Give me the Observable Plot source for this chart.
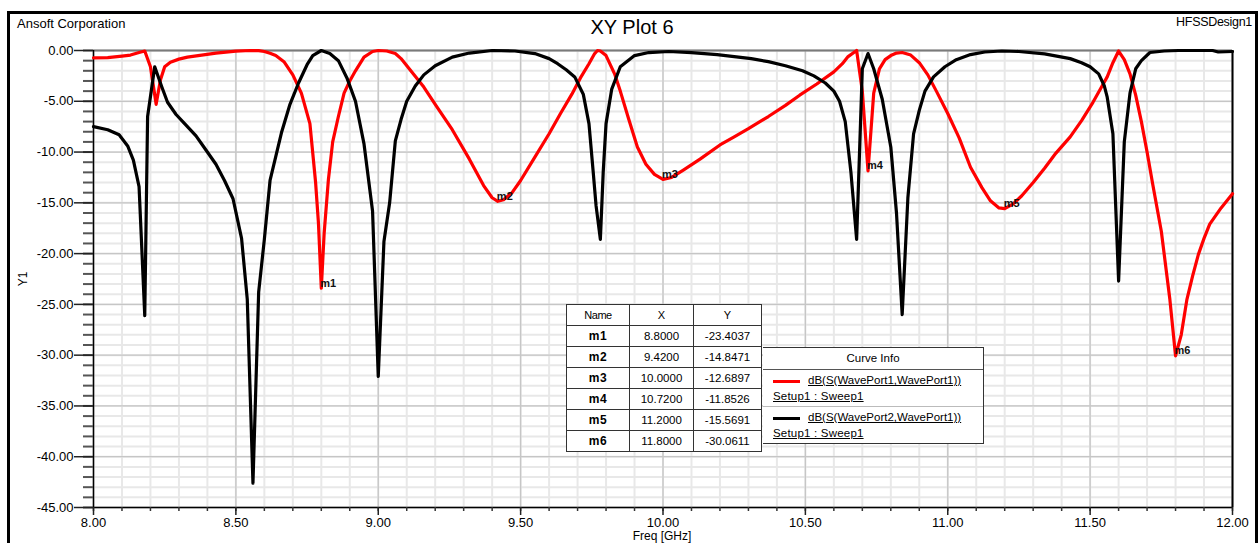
<!DOCTYPE html>
<html><head><meta charset="utf-8">
<script src="https://cdn.jsdelivr.net/npm/d3@7"></script>
<script src="https://cdn.jsdelivr.net/npm/@observablehq/plot@0.6"></script>
<style>
body{margin:0;background:#fff;font-family:"Liberation Sans",Arial,sans-serif;color:#000;}
#wrap{position:relative;width:1259px;height:543px;overflow:hidden;background:#fff;}
#frame{position:absolute;left:7px;top:11px;width:1251px;height:600px;border:3px solid #000;box-sizing:border-box;}
#chart{position:absolute;left:0;top:0;}
.lbl{position:absolute;white-space:nowrap;line-height:1;}
#mtable{position:absolute;left:566px;top:304px;border-collapse:collapse;background:#fff;font-size:11.5px;}
#mtable td{border:1.5px solid #333;height:20px;padding:0;text-align:center;vertical-align:middle;}
#info{position:absolute;left:763px;top:347px;width:221px;height:97px;border:1.5px solid #333;border-left:none;box-sizing:border-box;background:#fff;font-size:11.5px;}
#info .hd{position:absolute;left:0;top:0;width:100%;height:21px;border-bottom:1.5px solid #555;text-align:center;line-height:21px;}
#info .sep{position:absolute;left:0;top:58px;width:100%;height:0;border-top:1.5px solid #bbb;}
#info .sw{position:absolute;left:10px;width:27px;height:3px;}
#info .t{position:absolute;text-decoration:underline;white-space:nowrap;line-height:1;}
</style>
</head><body>
<div id="wrap">
  <div id="frame"></div>
  <div id="chart"></div>
</div>
<script>
// ---- data ----
const s11Freq = [8.00,8.05,8.10,8.13,8.16,8.18,8.20,8.22,8.235,8.25,8.27,8.30,8.33,8.38,8.43,8.50,8.55,8.58,8.60,8.62,8.64,8.67,8.70,8.73,8.76,8.78,8.79,8.80,8.81,8.825,8.84,8.86,8.88,8.90,8.92,8.95,8.98,9.00,9.03,9.06,9.08,9.12,9.16,9.20,9.26,9.32,9.37,9.40,9.42,9.44,9.47,9.50,9.55,9.60,9.64,9.68,9.71,9.74,9.76,9.77,9.78,9.80,9.83,9.85,9.88,9.91,9.94,9.97,10.00,10.03,10.07,10.13,10.20,10.25,10.30,10.37,10.43,10.48,10.54,10.60,10.63,10.65,10.68,10.70,10.72,10.74,10.76,10.78,10.80,10.82,10.84,10.87,10.90,10.93,10.96,11.00,11.04,11.08,11.12,11.15,11.18,11.20,11.23,11.26,11.30,11.34,11.38,11.43,11.47,11.51,11.54,11.56,11.58,11.60,11.62,11.64,11.66,11.68,11.70,11.72,11.75,11.78,11.80,11.82,11.84,11.86,11.88,11.90,11.92,11.96,12.00];
const s11dB = [-0.72,-0.70,-0.55,-0.45,-0.20,-0.05,-1.6,-5.3,-2.9,-1.6,-1.15,-0.85,-0.65,-0.45,-0.26,-0.07,0.0,-0.02,-0.10,-0.28,-0.50,-1.14,-2.4,-4.2,-7.2,-13.0,-17.0,-23.4037,-18.0,-12.7,-9.0,-6.5,-4.2,-3.0,-2.0,-0.65,-0.10,0.0,-0.05,-0.30,-0.80,-2.2,-3.6,-5.3,-7.8,-10.7,-13.3,-14.5,-14.8471,-14.7,-14.0,-12.8,-10.5,-8.2,-6.2,-4.3,-2.7,-1.3,-0.3,0.0,-0.05,-0.5,-2.3,-4.0,-6.8,-9.5,-11.2,-12.2,-12.6897,-12.5,-11.8,-10.7,-9.3,-8.5,-7.7,-6.5,-5.4,-4.4,-3.3,-2.1,-1.3,-0.6,0.0,-4.0,-11.8526,-4.2,-1.8,-0.9,-0.5,-0.25,-0.2,-0.45,-1.2,-2.4,-4.0,-6.2,-8.6,-11.5,-13.5,-14.8,-15.5,-15.5691,-15.1,-14.3,-13.0,-11.6,-10.1,-8.5,-6.9,-5.1,-3.6,-2.6,-1.2,-0.05,-0.9,-2.3,-4.4,-7.0,-10.0,-13.2,-17.8,-24.5,-30.0611,-28.0,-24.5,-22.2,-20.1,-18.5,-17.1,-15.5,-14.1];

const s21Freq = [8.00,8.05,8.09,8.12,8.14,8.16,8.18,8.19,8.215,8.24,8.26,8.29,8.32,8.36,8.39,8.43,8.46,8.49,8.52,8.54,8.56,8.58,8.60,8.62,8.66,8.69,8.72,8.75,8.77,8.80,8.83,8.86,8.89,8.92,8.95,8.98,9.00,9.02,9.04,9.06,9.08,9.10,9.13,9.16,9.20,9.26,9.32,9.40,9.48,9.55,9.60,9.63,9.66,9.69,9.72,9.74,9.755,9.765,9.78,9.79,9.80,9.82,9.85,9.90,9.95,10.02,10.10,10.19,10.25,10.31,10.37,10.43,10.49,10.53,10.57,10.60,10.62,10.64,10.66,10.68,10.70,10.72,10.74,10.77,10.80,10.82,10.84,10.86,10.88,10.90,10.92,10.95,10.99,11.03,11.08,11.13,11.19,11.25,11.34,11.43,11.47,11.50,11.53,11.55,11.56,11.58,11.60,11.62,11.64,11.66,11.68,11.71,11.76,11.81,11.93,11.95,12.00];
const s21dB = [-7.5,-7.8,-8.3,-9.4,-10.8,-13.4,-26.1,-6.5,-1.6,-3.6,-5.1,-6.3,-7.2,-8.4,-9.6,-11.2,-12.8,-14.6,-18.5,-24.5,-42.6,-23.8,-18.6,-12.8,-8.1,-5.3,-3.2,-1.4,-0.5,0.0,-0.3,-1.0,-2.7,-5.0,-9.2,-15.8,-32.1,-18.8,-15.0,-8.9,-6.8,-5.0,-3.5,-2.4,-1.5,-0.65,-0.25,0.0,-0.05,-0.3,-0.8,-1.3,-1.9,-2.6,-4.3,-7.2,-12.0,-15.3,-18.6,-12.0,-7.2,-3.8,-1.6,-0.5,-0.2,-0.1,-0.2,-0.4,-0.6,-0.8,-1.1,-1.5,-2.0,-2.5,-3.2,-4.0,-5.0,-7.0,-12.0,-18.6,-1.8,-0.3,-1.8,-4.8,-9.5,-16.0,-26.0,-14.5,-8.2,-5.9,-4.0,-2.6,-1.6,-0.9,-0.4,-0.15,-0.05,-0.1,-0.33,-0.8,-1.2,-1.6,-2.3,-3.5,-4.6,-8.2,-22.7,-9.0,-4.2,-1.8,-1.0,-0.2,-0.05,0.0,0.0,-0.15,-0.1];

const markerNames = ["m1","m2","m3","m4","m5","m6"];
const markerX = [8.8, 9.42, 10.0, 10.72, 11.2, 11.8];
const markerY = [-23.4037, -14.8471, -12.6897, -11.8526, -15.5691, -30.0611];

const xMajorTicks = [8.0, 8.5, 9.0, 9.5, 10.0, 10.5, 11.0, 11.5, 12.0];
const yMajorTicks = [0, -5, -10, -15, -20, -25, -30, -35, -40, -45];
const xMinorTicks = d3.range(0, 41).map(i => 8 + i / 10);
const yMinorTicks = d3.range(0, 46).map(i => -i);

const curveNames = ["dB(S(WavePort1,WavePort1))", "dB(S(WavePort2,WavePort1))"];
const curveSetup = "Setup1 : Sweep1";
const curveColors = ["#ff0000", "#000000"];

// ---- tables for the library ----
const s11 = s11Freq.map((f, i) => ({f, db: s11dB[i]}));
const s21 = s21Freq.map((f, i) => ({f, db: s21dB[i]}));
const markers = markerNames.map((n, i) => ({name: n, x: markerX[i], y: markerY[i]}));

const fmt2 = d => d.toFixed(2);

const chart = Plot.plot({
  width: 1259, height: 543,
  marginLeft: 93, marginRight: 27, marginTop: 50, marginBottom: 36,
  style: {background: "transparent", fontFamily: "'Liberation Sans', Arial, sans-serif", fontSize: "13px", color: "#000", overflow: "visible"},
  x: {domain: [8, 12]},
  y: {domain: [-45, 0]},
  marks: [
    Plot.gridX(xMinorTicks, {stroke: "#e8e8e8", strokeOpacity: 1, strokeWidth: 2}),
    Plot.gridY(yMinorTicks, {stroke: "#e8e8e8", strokeOpacity: 1, strokeWidth: 2}),
    Plot.gridX(xMajorTicks, {stroke: "#c6c6c6", strokeOpacity: 1, strokeWidth: 1.3}),
    Plot.gridY(yMajorTicks, {stroke: "#c6c6c6", strokeOpacity: 1, strokeWidth: 1.3}),
    Plot.ruleY([0], {stroke: "#7a7a7a", strokeWidth: 2}),
    Plot.ruleX([12], {stroke: "#000", strokeWidth: 2}),
    Plot.ruleX([8], {stroke: "#000", strokeWidth: 1.5}),
    Plot.ruleY([-45], {stroke: "#000", strokeWidth: 1.5}),
    Plot.axisY(yMinorTicks, {tickSize: 10, tickFormat: () => "", stroke: "#555", strokeWidth: 2, label: null}),
    Plot.axisY(yMajorTicks, {tickSize: 19, tickPadding: 1, tickFormat: fmt2, stroke: "#222", strokeWidth: 1.5, label: null, fontSize: 13}),
    Plot.axisX(xMinorTicks, {tickSize: 4, tickFormat: () => "", stroke: "#333", strokeWidth: 1.5, label: null}),
    Plot.axisX(xMajorTicks, {tickSize: 8, tickPadding: 2, tickFormat: fmt2, stroke: "#222", strokeWidth: 1.5, label: null, fontSize: 13}),
    Plot.line(s11, {x: "f", y: "db", stroke: curveColors[0], strokeWidth: 3.2, strokeLinejoin: "round"}),
    Plot.line(s21, {x: "f", y: "db", stroke: curveColors[1], strokeWidth: 3.2, strokeLinejoin: "round"}),
    Plot.text(markers, {x: "x", y: "y", text: "name", textAnchor: "start", lineAnchor: "middle", dx: -1, dy: -5, fontWeight: "bold", fontSize: 11, fill: "#111"})
  ]
});
const holder = document.getElementById("chart");
holder.appendChild(chart);

const wrap = document.getElementById("wrap");
function addLabel(text, css) {
  const d = document.createElement("div");
  d.className = "lbl";
  d.textContent = text;
  Object.assign(d.style, css);
  wrap.appendChild(d);
  return d;
}
addLabel("Ansoft Corporation", {left: "17px", top: "17px", fontSize: "13px"});
addLabel("XY Plot 6", {left: "632px", top: "27px", fontSize: "20px", transform: "translate(-50%,-50%)"});
addLabel("HFSSDesign1", {right: "7px", top: "22px", fontSize: "12.5px", transform: "translateY(-50%)", letterSpacing: "-0.3px"});
addLabel("Freq [GHz]", {left: "662px", top: "536px", fontSize: "12px", transform: "translate(-50%,-50%)"});
addLabel("Y1", {left: "23px", top: "279px", fontSize: "12px", transform: "translate(-50%,-50%) rotate(-90deg)"});

// marker table
const tbl = document.createElement("table");
tbl.id = "mtable";
const widths = [62, 63, 67];
const head = document.createElement("tr");
["Name", "X", "Y"].forEach((h, i) => {
  const td = document.createElement("td");
  td.textContent = h;
  td.style.width = widths[i] + "px";
  td.style.fontSize = "11px";
  if (i === 0) td.style.letterSpacing = "-0.5px";
  head.appendChild(td);
});
tbl.appendChild(head);
markers.forEach(m => {
  const tr = document.createElement("tr");
  [m.name, m.x.toFixed(4), m.y.toFixed(4)].forEach((v, i) => {
    const td = document.createElement("td");
    td.textContent = v;
    if (i === 0) { td.style.fontWeight = "bold"; td.style.fontSize = "12px"; td.style.letterSpacing = "0.5px"; }
    tr.appendChild(td);
  });
  tbl.appendChild(tr);
});
wrap.appendChild(tbl);

// curve info
const info = document.createElement("div");
info.id = "info";
info.innerHTML = '<div class="hd">Curve Info</div><div class="sep"></div>';
curveNames.forEach((name, i) => {
  const top0 = 22 + i * 37;
  const sw = document.createElement("div");
  sw.className = "sw";
  sw.style.top = (top0 + 10) + "px";
  sw.style.background = curveColors[i];
  info.appendChild(sw);
  const t1 = document.createElement("div");
  t1.className = "t";
  t1.textContent = name;
  t1.style.left = "45px";
  t1.style.top = (top0 + 5) + "px";
  info.appendChild(t1);
  const t2 = document.createElement("div");
  t2.className = "t";
  t2.textContent = curveSetup;
  t2.style.left = "10px";
  t2.style.top = (top0 + 21) + "px";
  t2.style.letterSpacing = "0.2px";
  info.appendChild(t2);
});
wrap.appendChild(info);
</script>
</body></html>
